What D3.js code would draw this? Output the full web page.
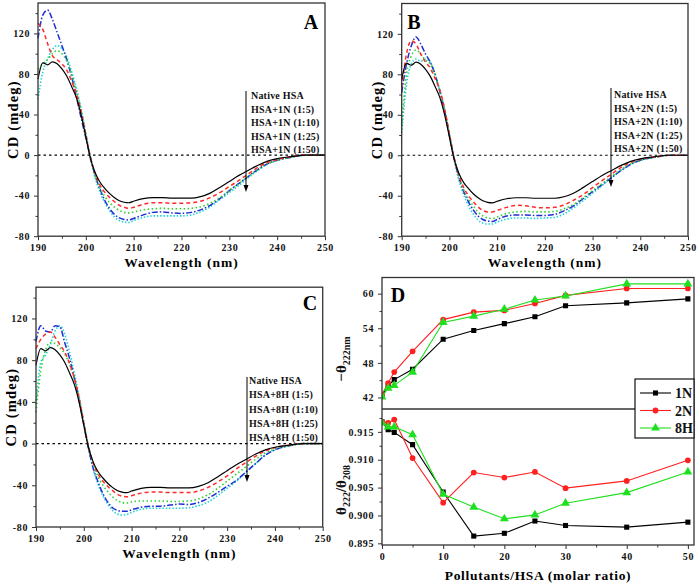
<!DOCTYPE html>
<html><head><meta charset="utf-8">
<script src="https://cdn.jsdelivr.net/npm/d3@7"></script>
<style>body{margin:0;background:#fff}svg{display:block}</style>
</head><body><svg id="c" width="699" height="586"></svg>
<script>
// ---------- DATA ----------
const wavelengths = [190,191,192,193,194,195,196,197,198,199,200,201,202,203,204,205,206,207,208,209,210,212,214,216,218,220,222,224,226,228,230,232,234,236,238,240,243,246,250];
const nativeHSA = [75,91,89,92,90,85,78,68,57,40,18,-4,-18,-27,-33,-38,-42,-45,-46.5,-47,-45.5,-43,-42,-42,-42.5,-42.5,-42.5,-41,-37.5,-32,-26,-20,-15,-10,-6,-3.5,-1.5,0,0];
// Panel A (1N)
const a_1_5  = [130,124,110,98,94,90,84,73,61,43,20,-3,-19,-30,-37,-42,-46,-49.5,-51.5,-52.5,-51.5,-48.5,-47,-47,-47.5,-47.5,-47,-45.5,-42,-37,-31,-25,-18.5,-12,-7.5,-4.5,-1.5,0,0];
const a_1_10 = [85,90,94,100,103,100,93,80,64,45,21,-3,-21,-33,-41,-47,-51.5,-54.5,-56.5,-57,-56,-54,-53,-52.5,-53,-53,-52.5,-51,-47.5,-42,-35,-28,-21,-14,-8.5,-5,-2,0,0];
const a_1_25 = [115,138,143,134,121,108,94,78,58,37,17,-3,-21,-34,-45,-53,-58.5,-62,-63.5,-64,-62.5,-59,-56.5,-56,-57,-57.5,-56.5,-54,-49.5,-43,-35,-28,-21,-14,-8.5,-5,-2,0,0];
const a_1_50 = [55,82,95,104,108,105,97,83,66,46,21,-4,-23,-37,-47,-55,-61,-64.5,-66,-66.5,-64.5,-61.5,-60,-60,-60,-60,-59,-56,-51,-44,-37,-30,-22,-15,-9,-5.5,-2,0,0];
// Panel B (2N)
const b_1_5  = [67,100,113,110,100,92,86,76,64,46,21,-3,-20,-32,-40,-46,-51,-54.5,-56,-56,-54.5,-51.5,-49.5,-50,-51.5,-52,-51.5,-49,-44.5,-39,-32,-25,-18.5,-12,-7,-4,-1.5,0,0];
const b_1_10 = [30,80,98,104,100,94,90,79,64,45,21,-3,-21,-34,-43,-50,-56,-60,-62,-62.5,-61,-57.5,-56,-55.5,-56,-56,-55.5,-53,-48.5,-42,-35,-28,-21,-14,-8.5,-5,-2,0,0];
const b_1_25 = [62,90,108,117,110,100,92,80,63,44,20,-3,-22,-36,-46,-54,-60,-63.5,-65,-65.5,-63.5,-60,-59,-59,-59.5,-59.5,-58.5,-55,-50,-43,-36,-29,-22,-15,-9,-5,-2,0,0];
const b_1_50 = [22,70,90,95,93,95,92,80,64,44,19,-5,-25,-39,-50,-58,-64,-67,-68,-68,-66,-63,-62,-62,-62.5,-62,-61.5,-58,-52,-45,-37.5,-30,-22,-15,-9,-5,-2,0,0];
// Panel C (8H)
const c_1_5  = [91,100,105,107,102,95,88,77,63,44,20,-3,-19,-29,-36,-41,-45,-48.5,-50.5,-51,-50,-47.5,-46.5,-46.5,-47,-47,-47,-45.5,-42,-37,-31,-24,-18,-12,-7,-4,-1.5,0,0];
const c_1_10 = [30,70,90,97,96,92,86,76,62,44,20,-3,-20,-32,-40,-46,-51,-54.5,-56.5,-57,-56,-55,-55,-55,-55.5,-55.5,-55,-53,-49,-43,-36,-29,-22,-15,-9,-5,-2,0,0];
const c_1_25 = [98,113,108,107,113,112,97,82,63,42,18,-5,-24,-37,-48,-56,-61.5,-64,-65,-65,-63.5,-61,-60,-60,-59,-58,-58.5,-56.5,-52.5,-47,-41,-35,-27,-19,-11,-6,-2,0,0];
const c_1_50 = [38,78,85,95,108,113,105,88,68,46,20,-5,-25,-39,-50,-58,-64,-67.5,-68.5,-68,-66,-63,-62,-62,-62,-62,-61.5,-59.5,-56,-50,-43,-36,-27,-19,-11,-6,-2,0,0];

const cdTicks = [-80,-40,0,40,80,120];
const cdMinor = [-60,-20,20,60,100,140];
const wlTicks = [190,200,210,220,230,240,250];
const wlMinor = [195,205,215,225,235,245];

// Panel D
const ratios = [0,1,2,5,10,15,20,25,30,40,50];
const theta1N = [42.3,44.0,45.1,46.9,52.1,53.6,54.8,56.0,57.9,58.4,59.1];
const theta2N = [42.5,44.5,46.4,50.0,55.5,56.8,57.1,58.3,59.7,60.9,60.9];
const theta8H = [42.1,43.6,44.1,46.4,55.0,56.1,57.3,58.9,59.6,61.7,61.7];
const ratio1N = [0.9168,0.9154,0.9149,0.9127,0.9042,0.8963,0.8968,0.8990,0.8982,0.8979,0.8988];
const ratio2N = [0.9168,0.9166,0.9172,0.9103,0.9023,0.9077,0.9068,0.9078,0.9049,0.9062,0.9099];
const ratio8H = [0.9166,0.9159,0.9159,0.9145,0.9038,0.9015,0.8994,0.9001,0.9022,0.9041,0.9078];
const ratioXTicks = [0,10,20,30,40,50];
const ratioXMinor = [5,15,25,35,45];
const thetaTicks = [42,48,54,60];
const thetaMinor = [45,51,57];
const ratioYTicks = [0.895,0.900,0.905,0.910,0.915];
const ratioYMinor = [0.8975,0.9025,0.9075,0.9125,0.9175];

const legendA = ["Native HSA","HSA+1N (1:5)","HSA+1N (1:10)","HSA+1N (1:25)","HSA+1N (1:50)"];
const legendB = ["Native HSA","HSA+2N (1:5)","HSA+2N (1:10)","HSA+2N (1:25)","HSA+2N (1:50)"];
const legendC = ["Native HSA","HSA+8H (1:5)","HSA+8H (1:10)","HSA+8H (1:25)","HSA+8H (1:50)"];

// ---------- DRAW ----------
const svg = d3.select("#c");
const FONT = "'Liberation Serif','Times New Roman',serif";
const styles = [
  {color:"#000000", dash:null, w:1.2},
  {color:"#ff2b2b", dash:"4,3", w:1.5},
  {color:"#2fd12f", dash:"1.5,2.5", w:1.6},
  {color:"#1f2fd6", dash:"6,2,1.5,2", w:1.5},
  {color:"#22d3d8", dash:"1.5,1.8", w:1.6}
];

function styleAxis(g, size){
  g.selectAll("path.domain").remove();
  g.selectAll("line").attr("stroke","#333").attr("stroke-width",1);
  g.selectAll("text").attr("font-family",FONT).attr("font-weight","bold")
   .attr("font-size",size||10).attr("letter-spacing","0.6px").attr("fill","#111");
}

function cdPanel(cfg){
  const x = d3.scaleLinear().domain([190,250]).range([cfg.x0,cfg.x1]);
  const y = d3.scaleLinear().domain([-80,150]).range([cfg.yb,cfg.yt]);
  const g = svg.append("g");
  const ya = g.append("g").attr("transform",`translate(${cfg.x0},0)`)
    .call(d3.axisLeft(y).tickValues(cdTicks).tickSize(4).tickPadding(4).tickFormat(d=>String(d)));
  styleAxis(ya);
  const ym = g.append("g").attr("transform",`translate(${cfg.x0},0)`)
    .call(d3.axisLeft(y).tickValues(cdMinor).tickSize(2.5).tickFormat(""));
  styleAxis(ym);
  const xa = g.append("g").attr("transform",`translate(0,${cfg.yb})`)
    .call(d3.axisBottom(x).tickValues(wlTicks).tickSize(4).tickPadding(4));
  styleAxis(xa);
  const xm = g.append("g").attr("transform",`translate(0,${cfg.yb})`)
    .call(d3.axisBottom(x).tickValues(wlMinor).tickSize(2.5).tickFormat(""));
  styleAxis(xm);
  g.append("line").attr("x1",cfg.x0).attr("x2",cfg.x1).attr("y1",y(0)).attr("y2",y(0))
    .attr("stroke","#000").attr("stroke-width",1.2).attr("stroke-dasharray","2.5,3");
  const line = d3.line().x((d,i)=>x(wavelengths[i])).y(d=>y(d)).curve(d3.curveMonotoneX);
  [4,3,2,1,0].forEach(k=>{
    const s = styles[k];
    g.append("path").attr("d",line(cfg.series[k])).attr("fill","none")
      .attr("stroke",s.color).attr("stroke-width",s.w)
      .attr("stroke-dasharray",s.dash).attr("stroke-linejoin","round");
  });
  g.append("rect").attr("x",cfg.x0).attr("y",cfg.yt).attr("width",cfg.x1-cfg.x0).attr("height",cfg.yb-cfg.yt)
    .attr("fill","none").attr("stroke","#333").attr("stroke-width",1.3);
  g.append("line").attr("x1",cfg.ax).attr("x2",cfg.ax).attr("y1",cfg.ay0).attr("y2",cfg.ay1-6)
    .attr("stroke","#000").attr("stroke-width",1);
  g.append("path").attr("d",`M${cfg.ax-2.5},${cfg.ay1-7} L${cfg.ax+2.5},${cfg.ay1-7} L${cfg.ax},${cfg.ay1} Z`).attr("fill","#000");
  cfg.legend.forEach((t,i)=>{
    g.append("text").attr("x",cfg.tx).attr("y",cfg.ty0+i*cfg.tdy).attr("font-family",FONT)
      .attr("font-weight","bold").attr("font-size",10).attr("letter-spacing","0.2px").attr("fill","#111").text(t);
  });
  g.append("text").attr("x",cfg.lx).attr("y",cfg.ly).attr("font-family",FONT).attr("font-weight","bold")
    .attr("font-size",20).attr("text-anchor","middle").text(cfg.letter);
  g.append("text").attr("transform",`translate(${cfg.x0-20},${(cfg.yt+cfg.yb)/2}) rotate(-90)`)
    .attr("font-family",FONT).attr("font-weight","bold").attr("font-size",14.5).attr("text-anchor","middle")
    .attr("letter-spacing","1.2px").text("CD (mdeg)");
  g.append("text").attr("x",(cfg.x0+cfg.x1)/2).attr("y",cfg.yb+31).attr("font-family",FONT)
    .attr("font-weight","bold").attr("font-size",13.5).attr("text-anchor","middle")
    .attr("letter-spacing","1px").text("Wavelength (nm)");
}

cdPanel({x0:38,x1:325,yt:3,yb:236.2,series:[nativeHSA,a_1_5,a_1_10,a_1_25,a_1_50],
  legend:legendA,letter:"A",lx:311,ly:29,ax:246,ay0:91,ay1:192,tx:251,ty0:99,tdy:13.6});
cdPanel({x0:401.7,x1:688,yt:3.5,yb:236.2,series:[nativeHSA,b_1_5,b_1_10,b_1_25,b_1_50],
  legend:legendB,letter:"B",lx:414,ly:29,ax:611,ay0:88,ay1:187,tx:614,ty0:98,tdy:13.6});
cdPanel({x0:36,x1:322.7,yt:287.2,yb:527,series:[nativeHSA,c_1_5,c_1_10,c_1_25,c_1_50],
  legend:legendC,letter:"C",lx:310,ly:310,ax:247,ay0:377,ay1:482,tx:249,ty0:384,tdy:14.3});

// ---------- PANEL D ----------
(function(){
  const x0=382, x1=694, yt=277.5, ym=409, yb=545;
  const x = d3.scaleLinear().domain([0,51]).range([x0,x1]);
  const yT = d3.scaleLinear().domain([40,62.8]).range([ym,yt]);
  const yB = d3.scaleLinear().domain([0.8947,0.9191]).range([yb,ym]);
  const g = svg.append("g");
  const a1 = g.append("g").attr("transform",`translate(${x0},0)`)
    .call(d3.axisLeft(yT).tickValues(thetaTicks).tickSize(4).tickPadding(4)); styleAxis(a1);
  const a1m = g.append("g").attr("transform",`translate(${x0},0)`)
    .call(d3.axisLeft(yT).tickValues(thetaMinor).tickSize(2.5).tickFormat("")); styleAxis(a1m);
  const a2 = g.append("g").attr("transform",`translate(${x0},0)`)
    .call(d3.axisLeft(yB).tickValues(ratioYTicks).tickSize(4).tickPadding(4).tickFormat(d3.format(".3f"))); styleAxis(a2);
  const a2m = g.append("g").attr("transform",`translate(${x0},0)`)
    .call(d3.axisLeft(yB).tickValues(ratioYMinor).tickSize(2.5).tickFormat("")); styleAxis(a2m);
  const ax = g.append("g").attr("transform",`translate(0,${yb})`)
    .call(d3.axisBottom(x).tickValues(ratioXTicks).tickSize(4).tickPadding(4)); styleAxis(ax);
  const axm = g.append("g").attr("transform",`translate(0,${yb})`)
    .call(d3.axisBottom(x).tickValues(ratioXMinor).tickSize(2.5).tickFormat("")); styleAxis(axm);

  const defs = [
    {name:"1N", top:theta1N, bot:ratio1N, color:"#000000", sym:d3.symbolSquare, size:26},
    {name:"2N", top:theta2N, bot:ratio2N, color:"#ff2020", sym:d3.symbolCircle, size:26},
    {name:"8H", top:theta8H, bot:ratio8H, color:"#1fe01f", sym:d3.symbolTriangle, size:34}
  ];
  g.append("clipPath").attr("id","dclip").append("rect")
    .attr("x",x0).attr("y",yt).attr("width",x1-x0).attr("height",yb-yt);
  const body = g.append("g").attr("clip-path","url(#dclip)");
  defs.forEach(s=>{
    const lt = d3.line().x((d,i)=>x(ratios[i])).y(d=>yT(d));
    const lb = d3.line().x((d,i)=>x(ratios[i])).y(d=>yB(d));
    body.append("path").attr("d",lt(s.top)).attr("fill","none").attr("stroke",s.color).attr("stroke-width",1.1);
    body.append("path").attr("d",lb(s.bot)).attr("fill","none").attr("stroke",s.color).attr("stroke-width",1.1);
    const sym = d3.symbol().type(s.sym).size(s.size);
    s.top.forEach((v,i)=>body.append("path").attr("d",sym()).attr("fill",s.color)
      .attr("transform",`translate(${x(ratios[i])},${yT(v)})`));
    s.bot.forEach((v,i)=>body.append("path").attr("d",sym()).attr("fill",s.color)
      .attr("transform",`translate(${x(ratios[i])},${yB(v)})`));
  });
  g.append("rect").attr("x",x0).attr("y",yt).attr("width",x1-x0).attr("height",yb-yt)
    .attr("fill","none").attr("stroke","#333").attr("stroke-width",1.3);
  g.append("line").attr("x1",x0).attr("x2",x1).attr("y1",ym).attr("y2",ym).attr("stroke","#333").attr("stroke-width",1.3);

  const lg = g.append("g");
  lg.append("rect").attr("x",635).attr("y",379).attr("width",x1-635).attr("height",59)
    .attr("fill","#fff").attr("stroke","#111").attr("stroke-width",1.2);
  defs.forEach((s,i)=>{
    const yy = 393+i*17.5;
    lg.append("line").attr("x1",640).attr("x2",671).attr("y1",yy).attr("y2",yy).attr("stroke",s.color).attr("stroke-width",1.1);
    lg.append("path").attr("d",d3.symbol().type(s.sym).size(s.size)()).attr("fill",s.color)
      .attr("transform",`translate(655.5,${yy})`);
    lg.append("text").attr("x",675).attr("y",yy+5).attr("font-family",FONT).attr("font-weight","bold")
      .attr("font-size",14).attr("fill","#111").text(s.name);
  });

  g.append("text").attr("x",398).attr("y",302).attr("font-family",FONT).attr("font-weight","bold")
    .attr("font-size",20).attr("text-anchor","middle").text("D");
  const t1 = g.append("text").attr("transform",`translate(346,359) rotate(-90)`).attr("text-anchor","middle")
    .attr("font-family",FONT).attr("font-weight","bold").attr("font-size",15).attr("fill","#111");
  t1.append("tspan").text("\u2212\u03b8");
  t1.append("tspan").attr("font-size",10).attr("dy",4).text("222nm");
  const t2 = g.append("text").attr("transform",`translate(346,490) rotate(-90)`).attr("text-anchor","middle")
    .attr("font-family",FONT).attr("font-weight","bold").attr("font-size",15).attr("fill","#111");
  t2.append("tspan").text("\u03b8");
  t2.append("tspan").attr("font-size",10).attr("dy",4).text("222");
  t2.append("tspan").attr("dy",-4).text("/\u03b8");
  t2.append("tspan").attr("font-size",10).attr("dy",4).text("208");
  g.append("text").attr("x",(x0+x1)/2).attr("y",580).attr("text-anchor","middle").attr("font-family",FONT)
    .attr("font-weight","bold").attr("font-size",13.5).attr("letter-spacing","0.7px").text("Pollutants/HSA (molar ratio)");
})();
</script></body></html>
